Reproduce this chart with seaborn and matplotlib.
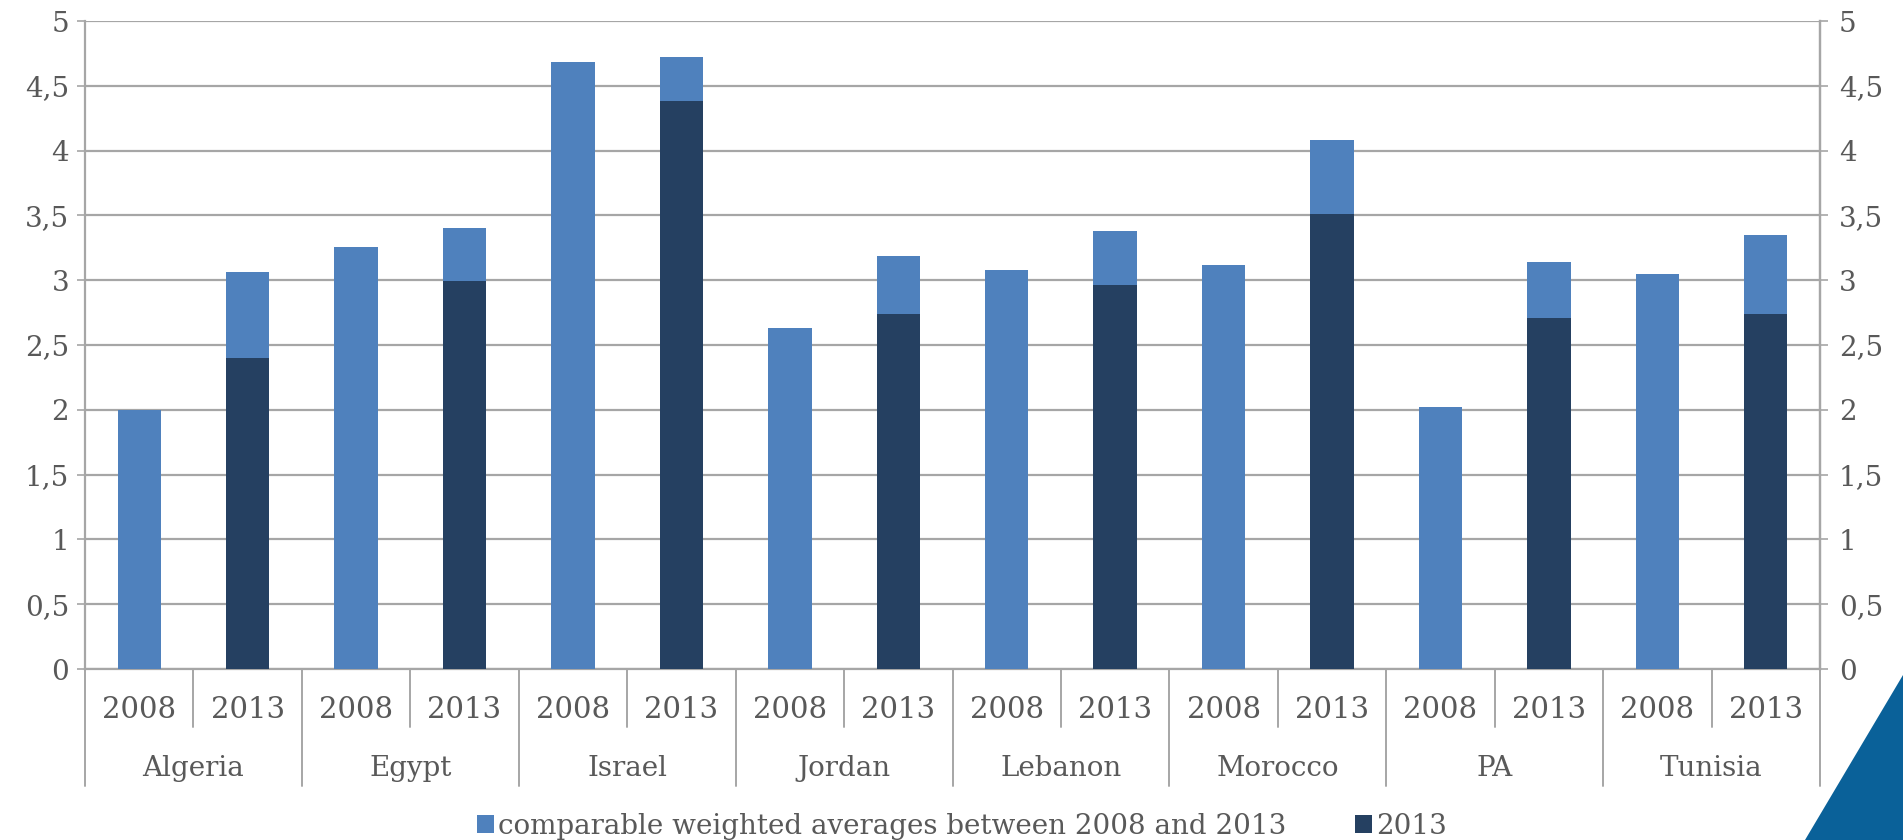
import numpy as np
import pandas as pd
import matplotlib
matplotlib.use("Agg")
import matplotlib.pyplot as plt
from matplotlib.patches import Patch, Polygon
from matplotlib.ticker import FixedLocator, FixedFormatter
import matplotlib.transforms as mtransforms
import seaborn as sns

# ---- data -------------------------------------------------------------
countries = ["Algeria", "Egypt", "Israel", "Jordan", "Lebanon", "Morocco", "PA", "Tunisia"]
years = ["2008", "2013"]
# comparable weighted averages between 2008 and 2013 (one value per country-year)
comparable_2008 = [2.00, 3.26, 4.68, 2.63, 3.08, 3.12, 2.02, 3.05]
comparable_2013 = [3.06, 3.40, 4.72, 3.19, 3.38, 4.08, 3.14, 3.35]
# 2013 values
values_2013 = [2.40, 2.99, 4.38, 2.74, 2.96, 3.51, 2.71, 2.74]
y_ticks = [0, 0.5, 1, 1.5, 2, 2.5, 3, 3.5, 4, 4.5, 5]
y_tick_labels = ["0", "0,5", "1", "1,5", "2", "2,5", "3", "3,5", "4", "4,5", "5"]
legend_labels = ["comparable weighted averages between 2008 and 2013", "2013"]

LIGHT = "#4F81BD"
DARK = "#254061"
GRID = "#A6A6A6"
TEXT = "#595959"

sns.set_theme(style="white")
plt.rcParams["font.family"] = ["DejaVu Serif"]

# long table: one row per country-year slot
rows = []
for i, c in enumerate(countries):
    rows.append({"slot": f"{c}-2008", "country": c, "year": "2008",
                 "comparable": comparable_2008[i], "v2013": np.nan})
    rows.append({"slot": f"{c}-2013", "country": c, "year": "2013",
                 "comparable": comparable_2013[i], "v2013": values_2013[i]})
df = pd.DataFrame(rows)
order = list(df["slot"])

W, H = 1903, 840
fig = plt.figure(figsize=(W / 100, H / 100), dpi=100)
left, right, top, bottom = 85, 1820, 21, 669
ax = fig.add_axes([left / W, 1 - bottom / H, (right - left) / W, (bottom - top) / H])

sns.barplot(data=df, x="slot", y="comparable", order=order, color=LIGHT,
            saturation=1, width=0.4, errorbar=None, ax=ax, zorder=3, linewidth=0)
sns.barplot(data=df, x="slot", y="v2013", order=order, color=DARK,
            saturation=1, width=0.4, errorbar=None, ax=ax, zorder=4, linewidth=0)

ax.set_xlim(-0.5, len(order) - 0.5)
ax.set_ylim(0, 5)
ax.set_xlabel("")
ax.set_ylabel("")
ax.set_xticks([])

ax.yaxis.set_major_locator(FixedLocator(y_ticks))
ax.yaxis.set_major_formatter(FixedFormatter(y_tick_labels))
ax.grid(axis="y", color=GRID, linewidth=1.6, zorder=0)
ax.set_axisbelow(True)
ax.tick_params(axis="y", which="major", direction="out", length=5.5, width=1.2,
               color=GRID, pad=6, labelsize=20, labelcolor=TEXT, left=True)

for s in ["left", "right", "bottom"]:
    ax.spines[s].set_visible(True)
    ax.spines[s].set_color(GRID)
    ax.spines[s].set_linewidth(1.6)
ax.spines["top"].set_visible(False)

# mirrored value axis on the right
ax2 = ax.twinx()
ax2.set_ylim(ax.get_ylim())
ax2.yaxis.set_major_locator(FixedLocator(y_ticks))
ax2.yaxis.set_major_formatter(FixedFormatter(y_tick_labels))
ax2.tick_params(axis="y", direction="out", length=5.5, width=1.2, color=GRID,
                pad=8, labelsize=20, labelcolor=TEXT, right=True)
for s in ["left", "top", "bottom"]:
    ax2.spines[s].set_visible(False)
ax2.spines["right"].set_color(GRID)
ax2.spines["right"].set_linewidth(1.6)
ax2.grid(False)

# two-level category axis below the bars
trans = mtransforms.blended_transform_factory(ax.transData, fig.transFigure)
y_year = 1 - 710 / H
y_country = 1 - 768 / H
y_short = 1 - 727 / H
y_long = 1 - 786 / H
y_axis = 1 - bottom / H

for i, row in df.iterrows():
    ax.text(i, y_year, row["year"], transform=trans, ha="center", va="center",
            fontsize=21, color=TEXT)
for k, c in enumerate(countries):
    ax.text(2 * k + 0.5, y_country, c, transform=trans, ha="center", va="center",
            fontsize=20, color=TEXT)

for b in np.arange(-0.5, len(order), 1.0):
    is_group = int(round(b + 0.5)) % 2 == 0
    y_end = y_long if is_group else y_short
    ax.plot([b, b], [y_axis, y_end], transform=trans, color=GRID,
            linewidth=1.4, clip_on=False)

# legend
handles = [Patch(facecolor=LIGHT, edgecolor="none"), Patch(facecolor=DARK, edgecolor="none")]
fig.legend(handles, legend_labels, loc="center", bbox_to_anchor=(962 / W, 1 - 826 / H),
           ncol=2, frameon=False, fontsize=20, labelcolor=TEXT,
           handlelength=0.6, handleheight=0.6, handletextpad=0.15, columnspacing=2.5,
           borderpad=0, borderaxespad=0)

# corner accent
tri = Polygon([[1805 / W, 0], [1.0, 0], [1.0, 1 - 675 / H]], closed=True,
              transform=fig.transFigure, facecolor="#0A6199", edgecolor="none")
fig.patches.append(tri)

fig.savefig("out.png", dpi=100)
